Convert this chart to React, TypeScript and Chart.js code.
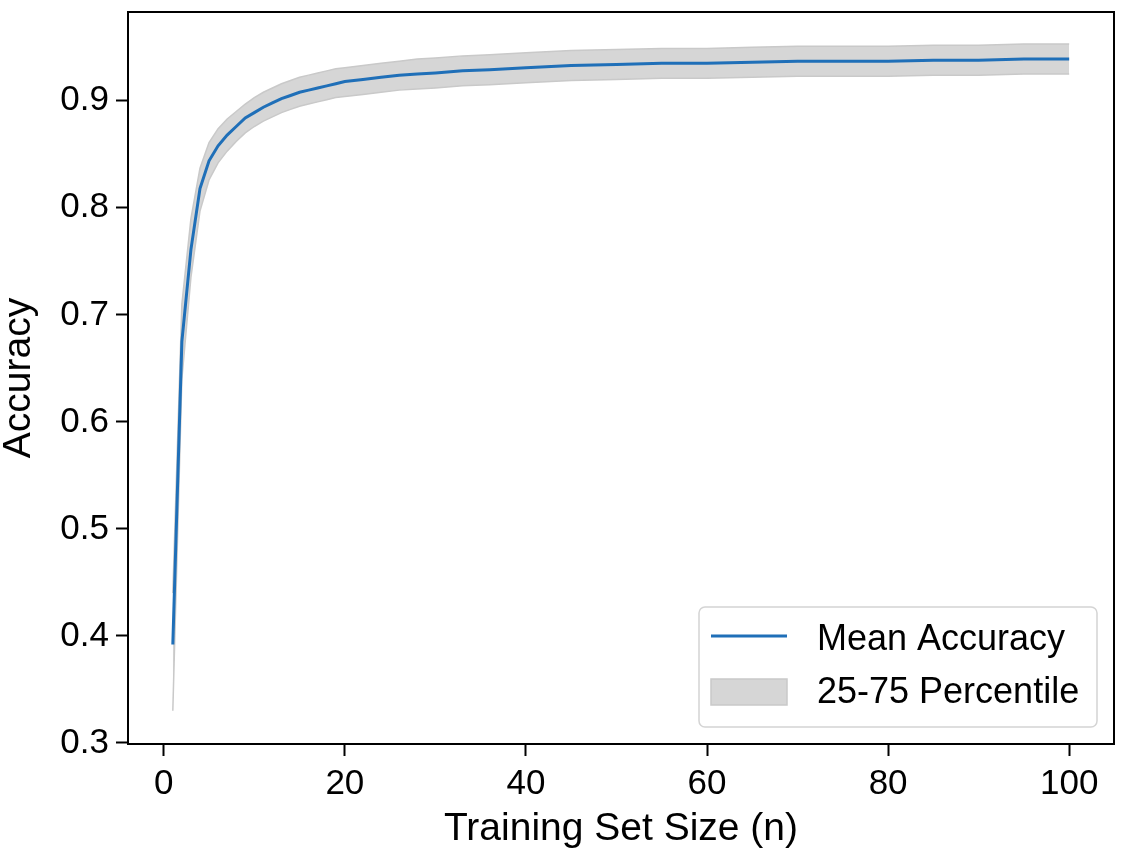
import React, { useEffect, useRef } from 'react';
import { Chart, registerables } from 'chart.js';

Chart.register(...registerables);

// training set sizes sampled along the curve
const sizes = [1, 2, 3, 4, 5, 6, 7, 8, 9, 10, 11, 12, 13, 14, 15, 16, 17, 18, 19, 20, 22, 24, 26, 28, 30, 33, 36, 40, 45, 50, 55, 60, 65, 70, 75, 80, 85, 90, 95, 100];
const meanAccuracy = [0.392, 0.675, 0.761, 0.818, 0.844, 0.858, 0.868, 0.876, 0.884, 0.889, 0.894, 0.898, 0.902, 0.905, 0.908, 0.91, 0.912, 0.914, 0.916, 0.918, 0.92, 0.922, 0.924, 0.925, 0.926, 0.928, 0.929, 0.931, 0.933, 0.934, 0.935, 0.935, 0.936, 0.937, 0.937, 0.937, 0.938, 0.938, 0.939, 0.939];
const p25 = [0.33, 0.64, 0.735, 0.797, 0.826, 0.842, 0.853, 0.862, 0.87, 0.876, 0.881, 0.885, 0.889, 0.892, 0.895, 0.897, 0.899, 0.901, 0.903, 0.904, 0.906, 0.908, 0.91, 0.911, 0.912, 0.914, 0.915, 0.917, 0.919, 0.92, 0.921, 0.921, 0.922, 0.923, 0.923, 0.923, 0.924, 0.924, 0.925, 0.925];
const p75 = [0.44, 0.71, 0.79, 0.837, 0.861, 0.874, 0.883, 0.89, 0.897, 0.903, 0.908, 0.912, 0.916, 0.919, 0.922, 0.924, 0.926, 0.928, 0.93, 0.931, 0.933, 0.935, 0.937, 0.939, 0.94, 0.942, 0.943, 0.945, 0.947, 0.948, 0.949, 0.949, 0.95, 0.951, 0.951, 0.951, 0.952, 0.952, 0.953, 0.953];

const xTicks = [0, 20, 40, 60, 80, 100];
const yTicks = [0.3, 0.4, 0.5, 0.6, 0.7, 0.8, 0.9];

const FONT = '"Liberation Sans", Arial, sans-serif';
const LINE_COLOR = '#1f6fb8';
const BAND_COLOR = '#d6d6d6';
const BAND_EDGE = '#c9c9c9';

// full frame round the plot area, like matplotlib spines
const framePlugin = {
  id: 'frame',
  afterDatasetsDraw(chart: any) {
    const { ctx, chartArea } = chart;
    ctx.save();
    ctx.strokeStyle = '#000';
    ctx.lineWidth = 2;
    ctx.strokeRect(chartArea.left, chartArea.top, chartArea.right - chartArea.left, chartArea.bottom - chartArea.top);
    ctx.restore();
  },
};

// legend box in the lower right corner
const legendPlugin = {
  id: 'cornerLegend',
  afterDraw(chart: any) {
    const { ctx, chartArea } = chart;
    const w = 398;
    const h = 120;
    const left = chartArea.right - 17 - w;
    const top = chartArea.bottom - 17 - h;
    ctx.save();
    ctx.beginPath();
    ctx.roundRect(left, top, w, h, 6);
    ctx.fillStyle = 'rgba(255,255,255,0.85)';
    ctx.fill();
    ctx.strokeStyle = '#d4d4d4';
    ctx.lineWidth = 1.5;
    ctx.stroke();

    const line = chart.data.datasets[0];
    const band = chart.data.datasets[2];

    ctx.beginPath();
    ctx.moveTo(left + 12, top + 29);
    ctx.lineTo(left + 88, top + 29);
    ctx.strokeStyle = line.borderColor;
    ctx.lineWidth = 3;
    ctx.stroke();

    ctx.fillStyle = BAND_COLOR;
    ctx.fillRect(left + 12, top + 72, 76, 26);
    ctx.strokeStyle = BAND_EDGE;
    ctx.lineWidth = 1.5;
    ctx.strokeRect(left + 12, top + 72, 76, 26);

    ctx.fillStyle = '#000';
    ctx.font = '36px ' + FONT;
    ctx.textBaseline = 'alphabetic';
    ctx.textAlign = 'left';
    ctx.fillText(line.label, left + 118, top + 43);
    ctx.fillText(band.label, left + 118, top + 96);
    ctx.restore();
  },
};

export default function App() {
  const chartRef = useRef<HTMLCanvasElement>(null);

  useEffect(() => {
    if (!chartRef.current) return;
    document.body.style.margin = '0';

    const data = {
      datasets: [
        {
          label: 'Mean Accuracy',
          data: sizes.map((n, i) => ({ x: n, y: meanAccuracy[i] })),
          borderColor: LINE_COLOR,
          borderWidth: 3,
          pointRadius: 0,
          tension: 0,
          fill: false,
        },
        {
          label: '25th',
          data: sizes.map((n, i) => ({ x: n, y: p25[i] })),
          borderColor: BAND_EDGE,
          borderWidth: 1.5,
          pointRadius: 0,
          tension: 0,
          fill: false,
        },
        {
          label: '25-75 Percentile',
          data: sizes.map((n, i) => ({ x: n, y: p75[i] })),
          borderColor: BAND_EDGE,
          borderWidth: 1.5,
          backgroundColor: BAND_COLOR,
          pointRadius: 0,
          tension: 0,
          fill: 1,
        },
      ],
    };

    const config: any = {
      type: 'line',
      data,
      plugins: [framePlugin, legendPlugin],
      options: {
        animation: false,
        responsive: true,
        maintainAspectRatio: false,
        layout: { padding: { top: 12, right: 8, left: 0, bottom: 0 } },
        plugins: {
          legend: { display: false },
          title: { display: false },
          tooltip: { enabled: false },
        },
        scales: {
          x: {
            type: 'linear',
            min: -3.95,
            max: 104.95,
            afterBuildTicks: (axis: any) => {
              axis.ticks = xTicks.map((v) => ({ value: v }));
            },
            afterFit: (axis: any) => {
              axis.height = 105;
              axis.paddingLeft = 0;
              axis.paddingRight = 0;
            },
            ticks: {
              color: '#000',
              font: { family: FONT, size: 35 },
              padding: 7,
              maxRotation: 0,
              autoSkip: false,
              callback: (v: number) => String(v),
            },
            grid: {
              drawOnChartArea: false,
              drawTicks: true,
              tickLength: 12,
              tickWidth: 2,
              tickColor: '#000',
            },
            border: { display: true, color: '#000', width: 2 },
            title: {
              display: true,
              text: 'Training Set Size (n)',
              color: '#000',
              font: { family: FONT, size: 39, lineHeight: 1 },
              padding: 0,
            },
          },
          y: {
            type: 'linear',
            min: 0.299,
            max: 0.983,
            afterBuildTicks: (axis: any) => {
              axis.ticks = yTicks.map((v) => ({ value: v }));
            },
            afterFit: (axis: any) => {
              axis.width = 128;
              axis.paddingTop = 0;
              axis.paddingBottom = 0;
            },
            ticks: {
              color: '#000',
              font: { family: FONT, size: 35 },
              padding: 7,
              autoSkip: false,
              callback: (v: number) => v.toFixed(1),
            },
            grid: {
              drawOnChartArea: false,
              drawTicks: true,
              tickLength: 12,
              tickWidth: 2,
              tickColor: '#000',
            },
            border: { display: true, color: '#000', width: 2 },
            title: {
              display: true,
              text: 'Accuracy',
              color: '#000',
              font: { family: FONT, size: 39, lineHeight: 1 },
              padding: 0,
            },
          },
        },
      },
    };

    const myChart = new Chart(chartRef.current, config);

    return () => {
      myChart.destroy();
    };
  }, []);

  return (
    <div style={{ position: 'absolute', left: 0, top: 0, width: 1122, height: 849, background: '#fff' }}>
      <canvas ref={chartRef}></canvas>
    </div>
  );
}
